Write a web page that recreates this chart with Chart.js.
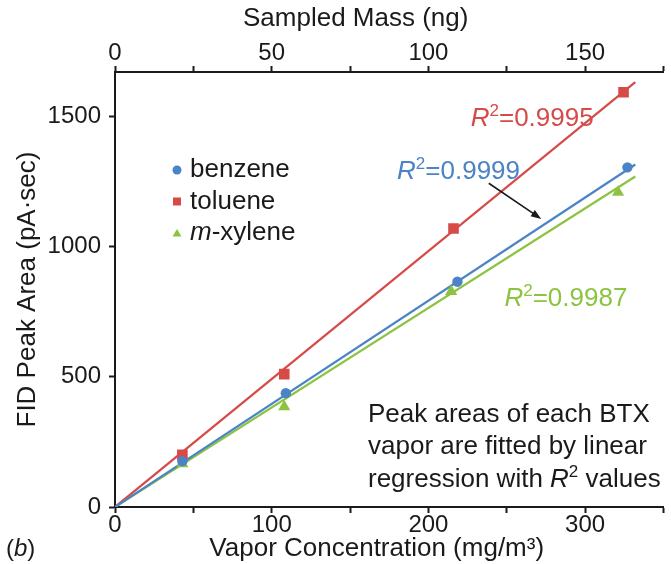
<!DOCTYPE html>
<html>
<head>
<meta charset="utf-8">
<script src="https://cdn.jsdelivr.net/npm/chart.js@4.4.1/dist/chart.umd.min.js"></script>
<style>
  html, body { margin: 0; padding: 0; background: #fff; }
</style>
</head>
<body>
<canvas id="grafico" width="671" height="564"></canvas>
<script>
// concentracion (mg/m3) y area de pico (pA·sec)
const benzeneConc = [43, 109, 218.5, 327]
const benzeneArea = [176, 437, 865, 1304]
const tolueneConc = [43, 108, 216, 324.5]
const tolueneArea = [200, 510, 1069, 1592]
const xyleneConc = [43, 108, 214.5, 321]
const xyleneArea = [166, 385, 827, 1208]

// rectas de ajuste (extremos)
const fitConc = [0, 332]
const benzeneFit = [0, 1315]
const tolueneFit = [0, 1631]
const xyleneFit = [0, 1269]

const r2Labels = ['0.9999', '0.9995', '0.9987']

const concTicks = [0, 50, 100, 150, 200, 250, 300, 350]
const massTicks = [0, 25, 50, 75, 100, 125, 150, 175]
const areaTicks = [0, 500, 1000, 1500]

const BLUE = '#4a84c6'
const RED = '#d64a48'
const GREEN = '#8cc341'
const INK = '#1a1a1a'
const FONT = '"Liberation Sans", Arial, Helvetica, sans-serif'
const TXT = 26

const puntos = (xs, ys) => xs.map((x, i) => ({ x: x, y: ys[i] }))

const serie = (label, xs, ys, color, style, radius) => ({
    label: label,
    data: puntos(xs, ys),
    showLine: false,
    backgroundColor: color,
    borderColor: color,
    pointStyle: style,
    pointRadius: radius,
    pointBorderWidth: 0,
    order: 1,
})

const recta = (label, ys, color) => ({
    label: label,
    data: puntos(fitConc, ys),
    showLine: true,
    borderColor: color,
    borderWidth: 2.2,
    pointRadius: 0,
    fill: false,
    order: 2,
})

// texto con R en cursiva y el 2 como superindice
const drawR2 = (ctx, x, y, value, color, size) => {
    ctx.save()
    ctx.fillStyle = color
    ctx.textBaseline = 'alphabetic'
    ctx.textAlign = 'left'
    ctx.font = `italic ${size}px ${FONT}`
    ctx.fillText('R', x, y)
    let cx = x + ctx.measureText('R').width
    ctx.font = `${Math.round(size * 0.66)}px ${FONT}`
    ctx.fillText('2', cx, y - size * 0.38)
    cx += ctx.measureText('2').width
    ctx.font = `${size}px ${FONT}`
    ctx.fillText(value, cx, y)
    ctx.restore()
}

const anotaciones = {
    id: 'anotaciones',
    afterDatasetsDraw(chart) {
        const ctx = chart.ctx
        const sx = chart.scales.x
        const sy = chart.scales.y
        const area = chart.chartArea
        const px = v => sx.getPixelForValue(v)
        const py = v => sy.getPixelForValue(v)

        // etiquetas R2
        drawR2(ctx, px(227), py(1496) + 9, '=' + r2Labels[1], RED, TXT)
        drawR2(ctx, px(180), py(1293) + 9, '=' + r2Labels[0], BLUE, TXT)
        drawR2(ctx, px(248.5), py(805) + 9, '=' + r2Labels[2], GREEN, TXT)

        // flecha hacia la recta del benceno
        const x0 = px(238.5), y0 = py(1243)
        const x1 = px(272), y1 = py(1106)
        const ang = Math.atan2(y1 - y0, x1 - x0)
        ctx.save()
        ctx.strokeStyle = INK
        ctx.fillStyle = INK
        ctx.lineWidth = 1.6
        ctx.beginPath()
        ctx.moveTo(x0, y0)
        ctx.lineTo(x1 - 8 * Math.cos(ang), y1 - 8 * Math.sin(ang))
        ctx.stroke()
        ctx.beginPath()
        ctx.moveTo(x1, y1)
        ctx.lineTo(x1 - 11 * Math.cos(ang - 0.35), y1 - 11 * Math.sin(ang - 0.35))
        ctx.lineTo(x1 - 11 * Math.cos(ang + 0.35), y1 - 11 * Math.sin(ang + 0.35))
        ctx.closePath()
        ctx.fill()
        ctx.restore()

        // leyenda
        const series = [
            ['benzene', BLUE, 'circle'],
            ['toluene', RED, 'rect'],
            ['xylene', GREEN, 'triangle'],
        ]
        ctx.save()
        ctx.textBaseline = 'middle'
        ctx.textAlign = 'left'
        series.forEach((s, i) => {
            const lx = area.left + 62
            const ly = area.top + 98 + i * 31.5
            ctx.fillStyle = s[1]
            ctx.beginPath()
            if (s[2] === 'circle') ctx.arc(lx, ly, 4.5, 0, Math.PI * 2)
            else if (s[2] === 'rect') ctx.rect(lx - 4, ly - 4, 8, 8)
            else { ctx.moveTo(lx, ly - 4); ctx.lineTo(lx + 4.5, ly + 3.5); ctx.lineTo(lx - 4.5, ly + 3.5) }
            ctx.closePath()
            ctx.fill()
            ctx.fillStyle = INK
            let tx = lx + 13
            if (s[0] === 'xylene') {
                ctx.font = `italic ${TXT}px ${FONT}`
                ctx.fillText('m', tx, ly)
                tx += ctx.measureText('m').width
                ctx.font = `${TXT}px ${FONT}`
                ctx.fillText('-xylene', tx, ly)
            } else {
                ctx.font = `${TXT}px ${FONT}`
                ctx.fillText(s[0], tx, ly)
            }
        })

        // nota
        const nx = area.left + 253
        const ny = area.top + 343
        ctx.fillStyle = INK
        ctx.font = `${TXT}px ${FONT}`
        ctx.fillText('Peak areas of each BTX', nx, ny)
        ctx.fillText('vapor are fitted by linear', nx, ny + 31.5)
        ctx.restore()
        const base = ny + 63 + 9
        ctx.save()
        ctx.font = `${TXT}px ${FONT}`
        ctx.fillStyle = INK
        ctx.textBaseline = 'alphabetic'
        const pre = 'regression with '
        ctx.fillText(pre, nx, base)
        const w = ctx.measureText(pre).width
        drawR2(ctx, nx + w, base, ' values', INK, TXT)
        ctx.restore()
    },
    afterDraw(chart) {
        const ctx = chart.ctx
        const sx = chart.scales.x
        const sx2 = chart.scales.x2
        const sy = chart.scales.y
        ctx.save()
        ctx.fillStyle = INK
        ctx.textAlign = 'center'
        ctx.textBaseline = 'middle'
        ctx.font = `${TXT}px ${FONT}`
        // titulos de ejes
        ctx.fillText('Sampled Mass (ng)', sx2.getPixelForValue(76.8), 19)
        ctx.fillText('Vapor Concentration (mg/m³)', sx.getPixelForValue(167), 549)
        ctx.save()
        ctx.translate(28, sy.getPixelForValue(835))
        ctx.rotate(-Math.PI / 2)
        ctx.fillText('FID Peak Area (pA·sec)', 0, 0)
        ctx.restore()

        // etiqueta del panel
        ctx.textAlign = 'left'
        ctx.font = `24px ${FONT}`
        ctx.fillText('(', 6, 549)
        let bx = 6 + ctx.measureText('(').width
        ctx.font = `italic 24px ${FONT}`
        ctx.fillText('b', bx, 549)
        bx += ctx.measureText('b').width
        ctx.font = `24px ${FONT}`
        ctx.fillText(')', bx, 549)
        ctx.restore()
    }
}

const ejeTicks = (valores, paso, pad) => ({
    afterBuildTicks: s => { s.ticks = valores.map(v => ({ value: v })) },
    ticks: {
        autoSkip: false,
        maxRotation: 0,
        padding: pad,
        color: INK,
        font: { size: 24, family: FONT },
        callback: v => (v % paso === 0 ? String(v) : ''),
    },
})

const ejeGrid = {
    grid: { drawOnChartArea: false, tickLength: 6, tickWidth: 2, tickColor: INK },
    border: { color: INK, width: 2 },
}

const config = {
    type: 'scatter',
    data: {
        datasets: [
            serie('benzene', benzeneConc, benzeneArea, BLUE, 'circle', 5.2),
            serie('toluene', tolueneConc, tolueneArea, RED, 'rect', 7.5),
            serie('m-xylene', xyleneConc, xyleneArea, GREEN, 'triangle', 7),
            recta('benzene fit', benzeneFit, BLUE),
            recta('toluene fit', tolueneFit, RED),
            recta('m-xylene fit', xyleneFit, GREEN),
        ],
    },
    options: {
        responsive: false,
        animation: false,
        layout: { padding: { right: 1, left: 0, top: 0, bottom: 0 } },
        plugins: {
            legend: { display: false },
            tooltip: { enabled: false },
        },
        scales: {
            x: {
                type: 'linear',
                position: 'bottom',
                min: 0,
                max: 350,
                ...ejeTicks(concTicks, 100, -2),
                ...ejeGrid,
                afterFit: s => { s.height = 57 },
            },
            x2: {
                type: 'linear',
                position: 'top',
                min: 0,
                max: 175,
                ...ejeTicks(massTicks, 50, -2),
                ...ejeGrid,
                afterFit: s => { s.height = 72 },
            },
            y: {
                type: 'linear',
                position: 'left',
                min: 0,
                max: 1670,
                ...ejeTicks(areaTicks, 500, 8),
                ...ejeGrid,
                afterFit: s => { s.width = 115 },
            },
        },
    },
    plugins: [anotaciones],
}

const myChart = new Chart(document.getElementById('grafico'), config)
</script>
</body>
</html>
